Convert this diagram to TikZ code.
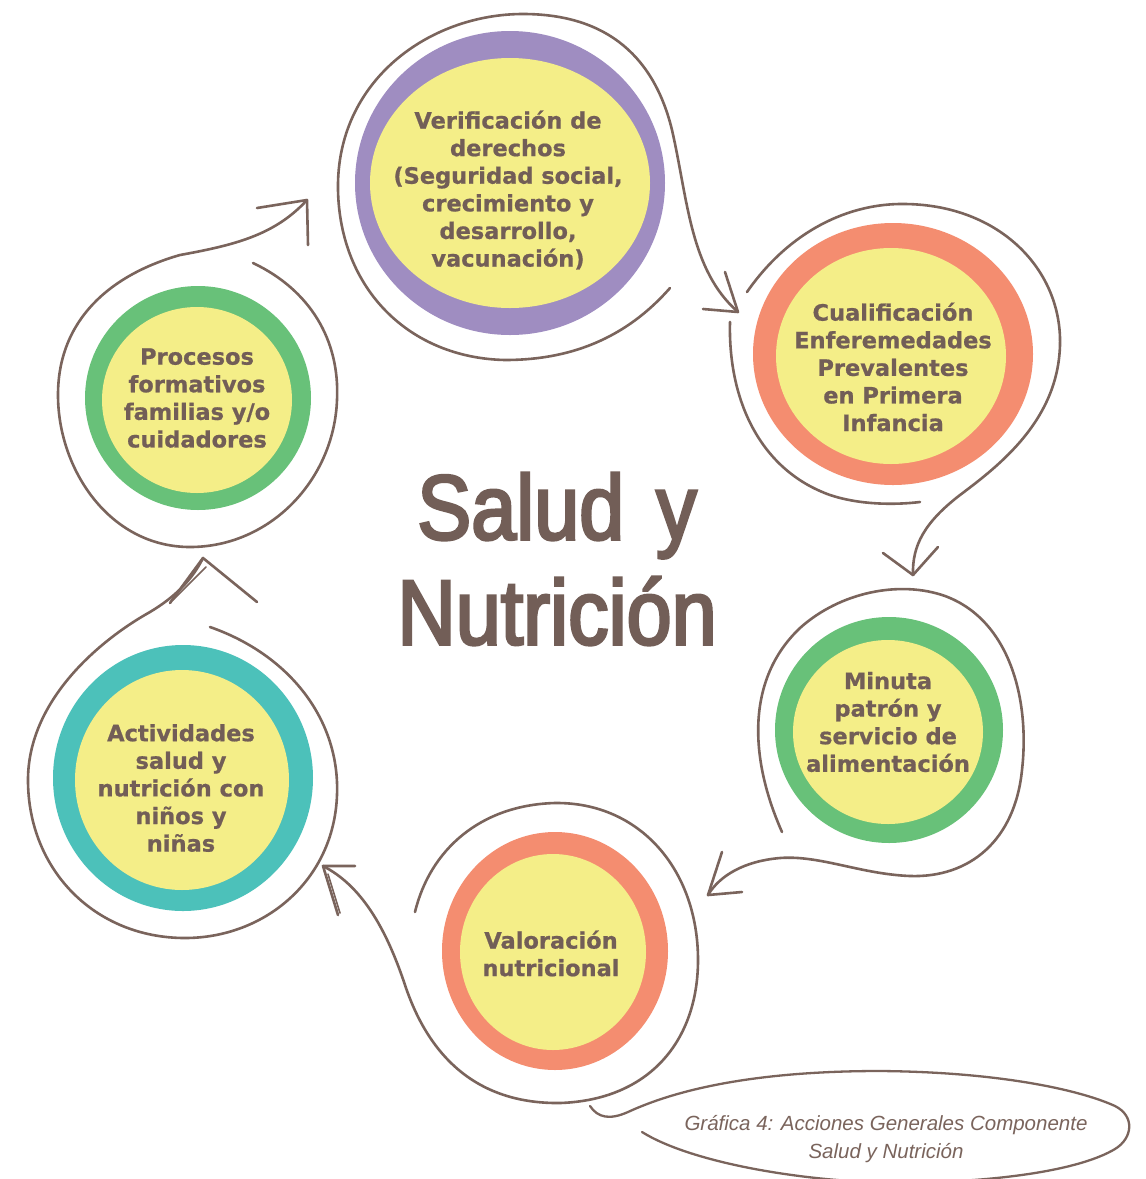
\documentclass[tikz,border=0pt]{standalone}
\usepackage{fontspec}
\usetikzlibrary{shapes.geometric}
\newfontfamily\boxfont{DejaVu Sans}[BoldFeatures={FakeBold=0.8}]
\newfontfamily\capfont{Liberation Sans}
\newfontfamily\titlefont{Liberation Sans}[FakeStretch=0.88,FakeBold=3]
\definecolor{ink}{HTML}{7A645C}
\definecolor{txt}{HTML}{725E57}
\definecolor{lemon}{HTML}{F4EE88}
\definecolor{lilac}{HTML}{9F8DC1}
\definecolor{salmon}{HTML}{F48D70}
\definecolor{leaf}{HTML}{68C179}
\definecolor{tealc}{HTML}{4CC1BA}
\tikzset{
  ring/.style={ellipse, inner sep=0pt, draw=none},
  core/.style={ellipse, inner sep=0pt, draw=none, fill=lemon},
  lbl/.style={align=center, text=txt, inner sep=0pt,
    font={\boxfont\bfseries\fontsize{22.5}{27.6}\selectfont}},
  swirl/.style={draw=ink, line width=2.6pt, line cap=round, line join=round},
  titletext/.style={align=center, text=txt, inner sep=0pt,
    font={\titlefont\fontsize{92}{105}\selectfont}},
  captext/.style={align=center, text=ink, inner sep=0pt,
    font={\capfont\itshape\fontsize{20.5}{27.5}\selectfont}},
}
\begin{document}
\begin{tikzpicture}[x=1pt,y=-1pt]
\useasboundingbox[fill=white] (0,0) rectangle (1146,1179);

% circles
\node[ring, fill=lilac, minimum width=310pt, minimum height=304pt] (vRing) at (510,183) {};
\node[core, minimum width=280pt, minimum height=250pt] (vCore) at (510,183) {};
\node[lbl] (v) at (508,190) {Verificación de\\derechos\\(Seguridad social,\\crecimiento y\\desarrollo,\\vacunación)};

\node[ring, fill=salmon, minimum width=280pt, minimum height=262pt] (cRing) at (893,354) {};
\node[core, minimum width=230pt, minimum height=216pt] (cCore) at (891,356) {};
\node[lbl] (c) at (893,367) {Cualificación\\Enferemedades\\Prevalentes\\en Primera\\Infancia};

\node[ring, fill=leaf, minimum width=228pt, minimum height=226pt] (mRing) at (889,730) {};
\node[core, minimum width=190pt, minimum height=184pt] (mCore) at (888,732) {};
\node[lbl] (m) at (888,722) {Minuta\\patrón y\\servicio de\\alimentación};

\node[ring, fill=salmon, minimum width=226pt, minimum height=238pt] (valRing) at (555,951) {};
\node[core, minimum width=186pt, minimum height=196pt] (valCore) at (553,952) {};
\node[lbl] (val) at (551,953.5) {Valoración\\nutricional};

\node[ring, fill=tealc, minimum width=260pt, minimum height=266pt] (aRing) at (183,778) {};
\node[core, minimum width=214pt, minimum height=220pt] (aCore) at (182,780) {};
\node[lbl] (a) at (181,788) {Actividades\\salud y\\nutrición con\\niños y\\niñas};

\node[ring, fill=leaf, minimum width=226pt, minimum height=224pt] (pRing) at (198,398) {};
\node[core, minimum width=190pt, minimum height=186pt] (pCore) at (197,400) {};
\node[lbl] (p) at (197,398) {Procesos\\formativos\\familias y/o\\cuidadores};

% title
\node[titletext] (title) at (557,559) {Salud\hspace{32pt}y\\Nutrición};

% connector coordinates
\coordinate (s1) at (670,288);  \coordinate (t1) at (738,312);
\coordinate (s2a) at (730,322); \coordinate (e2a) at (920,502);
\coordinate (s2) at (747,292);  \coordinate (t2) at (913,575);
\coordinate (s3) at (782,832);  \coordinate (t3) at (708,895);
\coordinate (s4) at (415,912);  \coordinate (t4) at (323,866);
\coordinate (s5) at (210,627);  \coordinate (t5) at (203,558);
\coordinate (s6) at (253,263);  \coordinate (t6) at (307,200);

% loop 1: Verificacion -> Cualificacion
\draw[swirl] (s1) .. controls (620,345) and (560,360) .. (505,360)
  .. controls (410,358) and (340,290) .. (338,190)
  .. controls (336,80) and (430,14) .. (523,14)
  .. controls (610,14) and (655,60) .. (672,130)
  .. controls (688,200) and (690,270) .. (t1);
\draw[swirl] (725,272) -- (t1) -- (703,309);

% loop 2: Cualificacion -> Minuta
\draw[swirl] (s2a) .. controls (728,400) and (760,470) .. (830,495)
  .. controls (860,505) and (895,505) .. (e2a);
\draw[swirl] (s2) .. controls (790,230) and (850,203) .. (905,204)
  .. controls (1000,205) and (1062,270) .. (1060,345)
  .. controls (1058,420) and (1000,465) .. (960,495)
  .. controls (925,522) and (912,545) .. (t2);
\draw[swirl] (883,553) -- (t2) -- (938,547);

% loop 3: Minuta -> Valoracion
\draw[swirl] (s3) .. controls (750,760) and (745,680) .. (800,628)
  .. controls (840,592) and (900,580) .. (945,596)
  .. controls (1010,620) and (1030,700) .. (1022,770)
  .. controls (1015,840) and (970,878) .. (910,876)
  .. controls (860,874) and (820,855) .. (780,858)
  .. controls (745,861) and (720,875) .. (t3);
\draw[swirl] (722,852) -- (t3) -- (742,892);

% loop 4: Valoracion -> Actividades
\draw[swirl] (s4) .. controls (430,850) and (480,805) .. (555,803)
  .. controls (640,802) and (698,870) .. (698,960)
  .. controls (698,1040) and (650,1100) .. (560,1103)
  .. controls (480,1104) and (430,1060) .. (405,985)
  .. controls (385,925) and (360,885) .. (t4);
\draw[swirl] (355,866) -- (t4) -- (338,915);
\draw[swirl, line width=1.6pt] (328,874) -- (340,913);

% loop 5: Actividades -> Procesos
\draw[swirl] (s5) .. controls (290,655) and (340,720) .. (337,795)
  .. controls (334,880) and (265,938) .. (185,938)
  .. controls (95,938) and (28,870) .. (28,780)
  .. controls (28,700) and (100,640) .. (150,612)
  .. controls (175,597) and (192,580) .. (t5);
\draw[swirl] (170,603) -- (t5) -- (257,602);
\draw[swirl, line width=1.6pt] (206,567) -- (173,600);

% loop 6: Procesos -> Verificacion
\draw[swirl] (s6) .. controls (310,290) and (340,340) .. (337,400)
  .. controls (334,480) and (270,547) .. (190,547)
  .. controls (110,547) and (58,470) .. (58,395)
  .. controls (58,320) and (110,275) .. (180,255)
  .. controls (235,245) and (275,235) .. (t6);
\draw[swirl] (257,208) -- (t6) -- (308,245);

% caption bubble
\coordinate (k1) at (590,1106);
\coordinate (k2) at (642,1132);
\draw[swirl, line width=2.3pt] (k1) .. controls (598,1118) and (610,1120) .. (628,1112)
  .. controls (680,1088) and (760,1071) .. (880,1071)
  .. controls (1000,1072) and (1080,1090) .. (1115,1106)
  .. controls (1135,1116) and (1133,1138) .. (1115,1149)
  .. controls (1080,1170) and (1000,1182) .. (900,1183)
  .. controls (800,1182) and (690,1162) .. (k2);
\node[captext] (caption) at (886,1139) {Gráfica 4: Acciones Generales Componente\\Salud y Nutrición};
\end{tikzpicture}
\end{document}
